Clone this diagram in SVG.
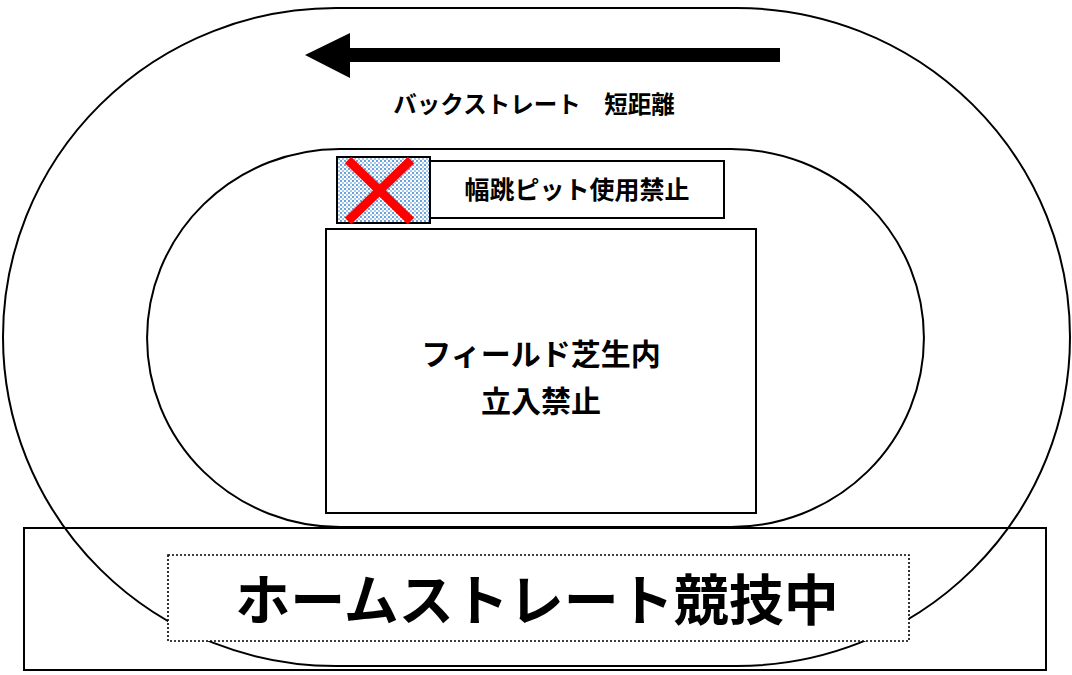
<svg xmlns="http://www.w3.org/2000/svg" width="1072" height="675" viewBox="0 0 1072 675">
  <defs>
    <pattern id="hatch" width="4" height="4" patternUnits="userSpaceOnUse">
      <rect width="4" height="4" fill="#ffffff"/>
      <rect x="0" y="0" width="2" height="2" fill="#6aa3dc"/>
      <rect x="2" y="2" width="2" height="2" fill="#a9c9ec"/>
    </pattern>
    <style>
      .line { fill: none; stroke: #000; stroke-width: 2; }
      .box { fill: #fff; stroke: #000; stroke-width: 2; }
      .t { font-family: "Noto Sans CJK JP", "Noto Sans CJK SC", sans-serif; font-weight: bold; fill: #000; text-anchor: middle; }
    </style>
  </defs>
  <rect width="1072" height="675" fill="#fff"/>

  <g id="outer-track">
    <path class="line" d="M336,8 H737 A333,329 0 0 1 737,666 H336 A333,329 0 0 1 336,8 Z"/>
  </g>

  <g id="inner-track">
    <path class="line" d="M340,149 H731 A193,189 0 0 1 731,527 H340 A193,189 0 0 1 340,149 Z"/>
  </g>

  <g id="back-arrow">
    <rect x="348" y="48" width="432" height="14" fill="#000"/>
    <polygon points="305,55 350,33 350,78" fill="#000"/>
  </g>

  <g id="back-straight-label">
    <text class="t" x="534" y="113" font-size="23.5">バックストレート　短距離</text>
  </g>

  <g id="pit-label">
    <rect class="box" x="430" y="161" width="294" height="57"/>
    <text class="t" x="577" y="199" font-size="25">幅跳ピット使用禁止</text>
  </g>

  <g id="pit">
    <rect x="337" y="157" width="93" height="66" fill="url(#hatch)" stroke="#000" stroke-width="2"/>
    <line x1="348" y1="160" x2="411" y2="221" stroke="#ff0000" stroke-width="9"/>
    <line x1="411" y1="160" x2="348" y2="221" stroke="#ff0000" stroke-width="9"/>
  </g>

  <g id="field">
    <rect class="box" x="326" y="229" width="430" height="284"/>
    <text class="t" x="541" y="365" font-size="30">フィールド芝生内</text>
    <text class="t" x="541" y="412" font-size="30">立入禁止</text>
  </g>

  <g id="home-straight">
    <rect class="line" x="24" y="528" width="1022" height="142"/>
    <rect x="168" y="555" width="741" height="86" fill="#fff" stroke="#000" stroke-width="1.6" stroke-dasharray="2,2"/>
    <text class="t" x="537" y="620" font-size="55">ホームストレート競技中</text>
  </g>
</svg>
